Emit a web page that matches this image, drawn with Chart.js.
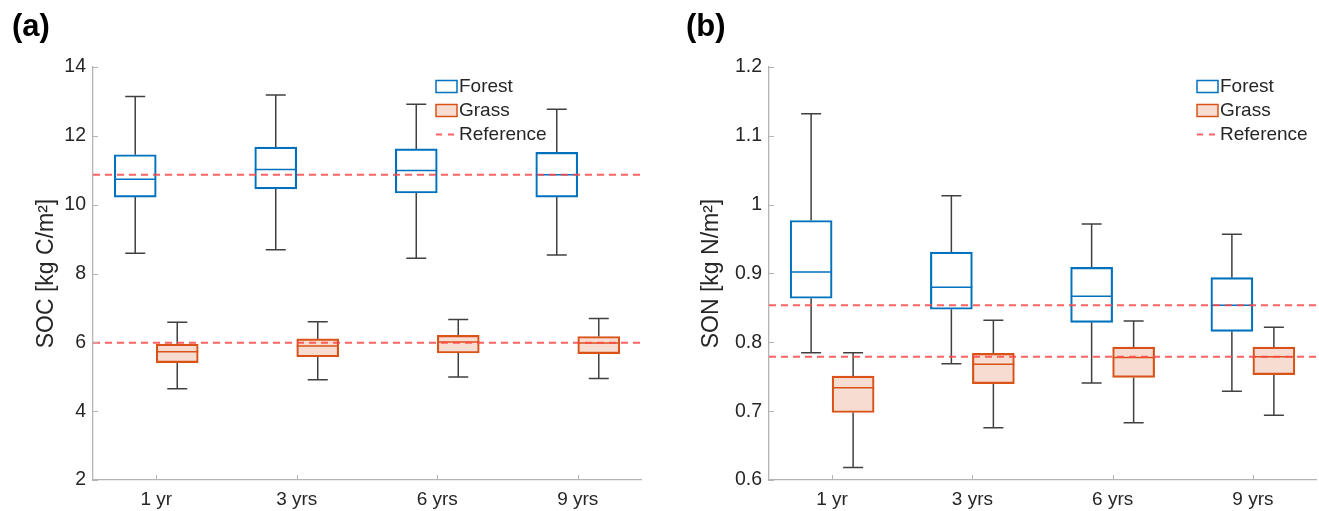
<!DOCTYPE html>
<html>
<head>
<meta charset="utf-8">
<script src="https://cdn.jsdelivr.net/npm/chart.js@4.4.1/dist/chart.umd.min.js"></script>
<style>
  body { margin: 0; background: #fff; }
  #wrap { position: relative; width: 1319px; height: 511px; }
  canvas { position: absolute; top: 0; }
</style>
</head>
<body>
<div id="wrap">
  <canvas id="chartA" width="660" height="511" style="left:0"></canvas>
  <canvas id="chartB" width="659" height="511" style="left:660px"></canvas>
</div>
<script>
const categories = ['1 yr', '3 yrs', '6 yrs', '9 yrs']
const xPos = [1, 2, 3, 4]

// (a) SOC, kg C/m2
const socForestMin = [8.59, 8.69, 8.44, 8.54]
const socForestQ1 = [10.22, 10.46, 10.34, 10.22]
const socForestMed = [10.74, 11.02, 10.99, 10.87]
const socForestQ3 = [11.45, 11.67, 11.62, 11.52]
const socForestMax = [13.14, 13.19, 12.92, 12.77]
const socGrassMin = [4.65, 4.91, 4.99, 4.95]
const socGrassQ1 = [5.41, 5.58, 5.69, 5.67]
const socGrassMed = [5.73, 5.89, 6.01, 5.98]
const socGrassQ3 = [5.95, 6.10, 6.20, 6.17]
const socGrassMax = [6.58, 6.60, 6.66, 6.69]
const socReference = [10.87, 5.99]
const socTicks = [2, 4, 6, 8, 10, 12, 14]
const socTickLabels = ['2', '4', '6', '8', '10', '12', '14']

// (b) SON, kg N/m2
const sonForestMin = [0.785, 0.769, 0.741, 0.729]
const sonForestQ1 = [0.864, 0.848, 0.829, 0.816]
const sonForestMed = [0.902, 0.880, 0.867, 0.854]
const sonForestQ3 = [0.977, 0.931, 0.909, 0.894]
const sonForestMax = [1.132, 1.013, 0.972, 0.957]
const sonGrassMin = [0.618, 0.676, 0.683, 0.694]
const sonGrassQ1 = [0.698, 0.740, 0.749, 0.753]
const sonGrassMed = [0.734, 0.768, 0.778, 0.779]
const sonGrassQ3 = [0.751, 0.784, 0.793, 0.793]
const sonGrassMax = [0.785, 0.832, 0.831, 0.822]
const sonReference = [0.854, 0.779]
const sonTicks = [0.6, 0.7, 0.8, 0.9, 1.0, 1.1, 1.2]
const sonTickLabels = ['0.6', '0.7', '0.8', '0.9', '1', '1.1', '1.2']

const FONT = "'Liberation Sans', Arial, Helvetica, sans-serif"
const BLUE = '#0072BD'
const ORANGE = '#D95319'
const ORANGE_FILL = 'rgba(217,83,25,0.2)'
const REF = 'rgba(255,70,70,0.85)'
const AXIS = '#b4b4b4'
const TEXT = '#262626'
const WHISK = '#404040'
const X_MIN = 0.55
const X_MAX = 4.45

const boxPlugin = {
    id: 'boxes',
    beforeDatasetsDraw(chart) {
        const ctx = chart.ctx
        const yScale = chart.scales.y
        chart.data.datasets.forEach((ds, di) => {
            if (!ds.stats) return
            const meta = chart.getDatasetMeta(di)
            ctx.save()
            ctx.strokeStyle = WHISK
            ctx.lineWidth = 1.5
            meta.data.forEach((el, i) => {
                const x = el.x
                const cap = 10
                const yMin = yScale.getPixelForValue(ds.stats.min[i])
                const yMax = yScale.getPixelForValue(ds.stats.max[i])
                const yQ1 = yScale.getPixelForValue(ds.data[i].y[0])
                const yQ3 = yScale.getPixelForValue(ds.data[i].y[1])
                ctx.beginPath()
                ctx.moveTo(x, yQ3); ctx.lineTo(x, yMax)
                ctx.moveTo(x - cap, yMax); ctx.lineTo(x + cap, yMax)
                ctx.moveTo(x, yQ1); ctx.lineTo(x, yMin)
                ctx.moveTo(x - cap, yMin); ctx.lineTo(x + cap, yMin)
                ctx.stroke()
            })
            ctx.restore()
        })
    },
    afterDatasetDraw(chart, args) {
        const ds = chart.data.datasets[args.index]
        if (!ds.stats) return
        const ctx = chart.ctx
        const yScale = chart.scales.y
        ctx.save()
        ctx.strokeStyle = ds.borderColor
        ctx.lineWidth = 1.5
        args.meta.data.forEach((el, i) => {
            const y = yScale.getPixelForValue(ds.stats.med[i])
            ctx.beginPath()
            ctx.moveTo(el.x - el.width / 2, y)
            ctx.lineTo(el.x + el.width / 2, y)
            ctx.stroke()
        })
        ctx.restore()
    },
    afterDraw(chart, args, opts) {
        const ctx = chart.ctx
        const { left, bottom } = chart.chartArea
        ctx.save()
        // inward tick marks
        ctx.strokeStyle = AXIS
        ctx.lineWidth = 1
        ctx.beginPath()
        chart.scales.x.ticks.forEach(t => {
            const x = Math.round(chart.scales.x.getPixelForValue(t.value)) + 0.5
            ctx.moveTo(x, bottom); ctx.lineTo(x, bottom - 5)
        })
        chart.scales.y.ticks.forEach(t => {
            const y = Math.round(chart.scales.y.getPixelForValue(t.value)) + 0.5
            ctx.moveTo(left, y); ctx.lineTo(left + 5, y)
        })
        ctx.stroke()

        // legend
        const lx = opts.legendX
        const rows = [86.5, 110.5, 134.5]
        ctx.lineWidth = 1.5
        ctx.fillStyle = '#fff'
        ctx.fillRect(lx, rows[0] - 6, 21, 12)
        ctx.strokeStyle = BLUE
        ctx.strokeRect(lx, rows[0] - 6, 21, 12)
        ctx.fillStyle = ORANGE_FILL
        ctx.fillRect(lx, rows[1] - 6, 21, 12)
        ctx.strokeStyle = ORANGE
        ctx.strokeRect(lx, rows[1] - 6, 21, 12)
        ctx.strokeStyle = REF
        ctx.lineWidth = 2
        ctx.setLineDash([6, 6])
        ctx.beginPath()
        ctx.moveTo(lx, rows[2]); ctx.lineTo(lx + 22, rows[2])
        ctx.stroke()
        ctx.setLineDash([])
        ctx.fillStyle = TEXT
        ctx.font = '19px ' + FONT
        ctx.textBaseline = 'middle'
        ctx.textAlign = 'left'
        ctx.fillText('Forest', lx + 23, rows[0])
        ctx.fillText('Grass', lx + 23, rows[1])
        ctx.fillText('Reference', lx + 23, rows[2])

        // panel label
        ctx.fillStyle = '#000'
        ctx.font = 'bold 31px ' + FONT
        ctx.textBaseline = 'alphabetic'
        ctx.fillText(opts.tag, opts.tagX, 36)
        ctx.restore()
    }
}

function boxSet(label, q1, q3, min, med, max, border, fill) {
    return {
        type: 'bar',
        label: label,
        data: xPos.map((x, i) => ({ x: x, y: [q1[i], q3[i]] })),
        stats: { min: min, med: med, max: max },
        backgroundColor: fill,
        borderColor: border,
        borderWidth: 1.5,
        borderSkipped: false,
        barThickness: 42,
        order: 1
    }
}

function refSet(value) {
    return {
        type: 'line',
        label: 'Reference',
        data: [{ x: X_MIN, y: value }, { x: X_MAX, y: value }],
        borderColor: REF,
        borderWidth: 2,
        borderDash: [7, 5],
        pointRadius: 0,
        order: 0
    }
}

function makeChart(id, p) {
    return new Chart(document.getElementById(id), {
        data: {
            datasets: [
                boxSet('Forest', p.fq1, p.fq3, p.fmin, p.fmed, p.fmax, BLUE, 'rgba(255,255,255,0)'),
                boxSet('Grass', p.gq1, p.gq3, p.gmin, p.gmed, p.gmax, ORANGE, ORANGE_FILL),
                ...p.refs.map(refSet)
            ]
        },
        options: {
            responsive: false,
            animation: false,
            devicePixelRatio: 1,
            layout: { padding: { left: 0, top: 67, right: p.right, bottom: 0 } },
            plugins: {
                legend: { display: false },
                tooltip: { enabled: false },
                boxes: { legendX: p.legendX, tag: p.tag, tagX: p.tagX }
            },
            scales: {
                x: {
                    type: 'linear',
                    min: X_MIN,
                    max: X_MAX,
                    offset: false,
                    afterBuildTicks: s => { s.ticks = xPos.map(v => ({ value: v })) },
                    afterFit: s => { s.height = 31 },
                    ticks: {
                        callback: (v, i) => categories[i],
                        font: { family: FONT, size: 19 },
                        color: TEXT,
                        padding: 8,
                        maxRotation: 0,
                        autoSkip: false
                    },
                    grid: { display: true, offset: false, drawOnChartArea: false, drawTicks: false },
                    border: { display: true, color: AXIS, width: 1.3 }
                },
                y: {
                    type: 'linear',
                    min: p.yTicks[0],
                    max: p.yTicks[p.yTicks.length - 1],
                    afterBuildTicks: s => { s.ticks = p.yTicks.map(v => ({ value: v })) },
                    afterFit: s => { s.width = p.left },
                    ticks: {
                        callback: (v, i) => p.yLabels[i],
                        font: { family: FONT, size: 19.5 },
                        color: TEXT,
                        padding: 7
                    },
                    grid: { display: true, drawOnChartArea: false, drawTicks: false },
                    border: { display: true, color: AXIS, width: 1.3 },
                    title: {
                        display: true,
                        text: p.title,
                        color: TEXT,
                        font: { family: FONT, size: 23 },
                        padding: { top: p.titlePad, bottom: 0 }
                    }
                }
            }
        },
        plugins: [boxPlugin]
    })
}

makeChart('chartA', {
    fq1: socForestQ1, fq3: socForestQ3, fmin: socForestMin, fmed: socForestMed, fmax: socForestMax,
    gq1: socGrassQ1, gq3: socGrassQ3, gmin: socGrassMin, gmed: socGrassMed, gmax: socGrassMax,
    refs: socReference, yTicks: socTicks, yLabels: socTickLabels,
    title: 'SOC [kg C/m²]', titlePad: 33, left: 93, right: 19,
    legendX: 436, tag: '(a)', tagX: 12
})

makeChart('chartB', {
    fq1: sonForestQ1, fq3: sonForestQ3, fmin: sonForestMin, fmed: sonForestMed, fmax: sonForestMax,
    gq1: sonGrassQ1, gq3: sonGrassQ3, gmin: sonGrassMin, gmed: sonGrassMed, gmax: sonGrassMax,
    refs: sonReference, yTicks: sonTicks, yLabels: sonTickLabels,
    title: 'SON [kg N/m²]', titlePad: 38, left: 109, right: 3,
    legendX: 537, tag: '(b)', tagX: 26
})
</script>
</body>
</html>
